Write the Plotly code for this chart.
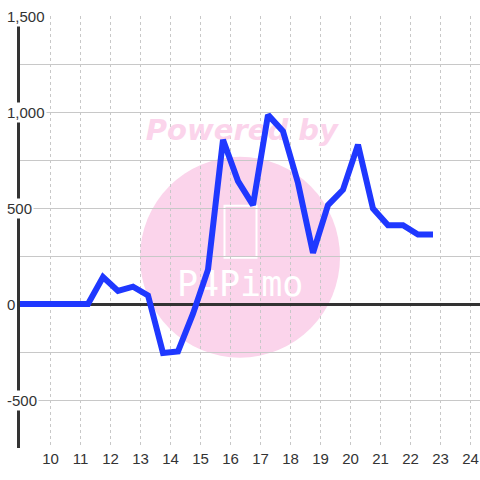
import plotly.graph_objects as go

# data
hours = [8.75, 9.25, 9.75, 10.25, 10.75, 11.25, 11.75, 12.25, 12.75, 13.25,
         13.75, 14.25, 14.75, 15.25, 15.75, 16.25, 16.75, 17.25, 17.75, 18.25,
         18.75, 19.25, 19.75, 20.25, 20.75, 21.25, 21.75, 22.25, 22.75]
values = [0, 0, 0, 0, 0, 0, 140, 68, 90, 45,
          -255, -247, -50, 179, 855, 640, 515, 985, 900, 630,
          266, 515, 595, 830, 497, 410, 410, 362, 362]
x_ticks = list(range(10, 25))
y_label_vals = [1500, 1000, 500, 0, -500]
y_label_text = ["1,500", "1,000", "500", "0", "-500"]

pink = "#fbd4eb"
font_family = "Liberation Sans, Arial, sans-serif"

fig = go.Figure()

# watermark texts (drawn under the line)
fig.add_trace(go.Scatter(
    x=[16.38], y=[890], mode="text", text=["Powered by"],
    textfont=dict(family="DejaVu Sans", size=29, color=pink, weight="bold", style="italic"),
    hoverinfo="skip", showlegend=False))
fig.add_trace(go.Scatter(
    x=[16.32], y=[88], mode="text", text=["P4Pimo"],
    textfont=dict(family="DejaVu Sans Mono", size=35, color="white"),
    hoverinfo="skip", showlegend=False))

fig.add_trace(go.Scatter(
    x=hours, y=values, mode="lines",
    line=dict(color="#1f38ff", width=6),
    hoverinfo="skip", showlegend=False))

# watermark circle and phone outline
fig.add_shape(type="circle", xref="x", yref="y", x0=12.983, x1=19.65, y0=-280, y1=767,
              fillcolor=pink, line=dict(width=0), layer="below")
fig.add_shape(type="rect", xref="x", yref="y", x0=15.8, x1=16.867, y0=241, y1=512,
              fillcolor="rgba(0,0,0,0)", line=dict(color="white", width=2), layer="below")

for v, t in zip(y_label_vals, y_label_text):
    fig.add_annotation(x=-15/460, xref="paper", y=v, yref="y", text=t, showarrow=False,
                       xanchor="left", yanchor="middle", bgcolor="white", borderpad=1,
                       font=dict(family=font_family, size=15, color="#333"))

fig.update_layout(
    width=480, height=480,
    margin=dict(l=20, r=0, t=16, b=32, autoexpand=False),
    paper_bgcolor="white", plot_bgcolor="white",
    showlegend=False,
    xaxis=dict(range=[8.983, 24.317], tickmode="array", tickvals=x_ticks,
               ticktext=[str(v) for v in x_ticks],
               showgrid=True, gridcolor="#c8c8c8", gridwidth=1, griddash="dot",
               zeroline=False, showline=False, ticks="", automargin=False,
               tickfont=dict(family=font_family, size=15, color="#333")),
    yaxis=dict(range=[-750, 1500], dtick=250, tick0=0, automargin=False,
               showgrid=True, gridcolor="#c8c8c8", gridwidth=1,
               zeroline=True, zerolinecolor="#333", zerolinewidth=3,
               showline=True, linecolor="#333", linewidth=3,
               showticklabels=False, ticks=""),
)

fig.write_html("out.html", config={"displayModeBar": False},
               post_script="document.body.style.margin='0px';document.body.style.overflow='hidden';")
